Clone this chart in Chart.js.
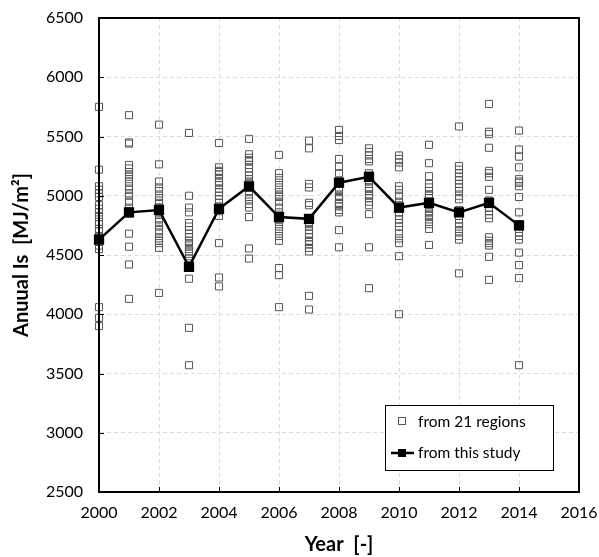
<!DOCTYPE html>
<html><head><meta charset="utf-8">
<script src="https://cdn.jsdelivr.net/npm/chart.js@4/dist/chart.umd.min.js"></script>
<style>html,body{margin:0;padding:0;background:#fff}#c{display:block}</style>
</head><body>
<canvas id="c" width="599" height="557"></canvas>
<script>
const years = [2000,2001,2002,2003,2004,2005,2006,2007,2008,2009,2010,2011,2012,2013,2014];
const studyValues = [4630,4860,4880,4400,4890,5080,4820,4805,5110,5160,4900,4940,4860,4940,4750];

const regions2000 = [5750,5220,5080,5050,5020,4990,4920,4890,4860,4820,4780,4760,4720,4700,4650,4610,4580,4550,4060,3970,3900];
const regions2001 = [5680,5450,5440,5260,5230,5200,5180,5160,5120,5080,5050,5020,5000,4950,4900,4870,4850,4680,4570,4420,4130];
const regions2002 = [5600,5265,5120,5070,5040,5000,4960,4930,4900,4860,4840,4800,4780,4750,4710,4680,4640,4620,4600,4560,4180];
const regions2003 = [5530,5000,4900,4860,4770,4740,4710,4680,4650,4620,4600,4580,4550,4530,4510,4470,4430,4410,4300,3885,3570];
const regions2004 = [5445,5240,5210,5200,5180,5150,5120,5110,5090,5060,5030,5000,4970,4940,4900,4870,4830,4600,4310,4235,4890];
const regions2005 = [5480,5350,5320,5300,5290,5260,5230,5200,5170,5140,5120,5100,5070,5040,5010,4970,4930,4900,4820,4555,4470];
const regions2006 = [5345,5190,5150,5110,5070,5030,5000,4990,4950,4900,4860,4820,4800,4780,4740,4700,4660,4620,4390,4330,4060];
const regions2007 = [5465,5400,5100,5070,4940,4920,4810,4800,4780,4760,4740,4710,4680,4650,4620,4610,4590,4560,4530,4155,4040];
const regions2008 = [5555,5505,5470,5310,5245,5190,5120,5100,5070,5040,5000,4990,4970,4940,4930,4910,4880,4860,4710,4565,5110];
const regions2009 = [5400,5370,5340,5310,5290,5190,5170,5130,5100,5070,5060,5040,5010,5000,4980,4950,4920,4845,4565,4220,5155];
const regions2010 = [5340,5310,5280,5240,5080,5050,5000,4950,4920,4890,4860,4830,4800,4770,4740,4680,4640,4600,4490,4000,4905];
const regions2011 = [5430,5275,5165,5100,5070,5040,5010,5000,4980,4950,4920,4900,4870,4860,4840,4830,4800,4760,4720,4585,4935];
const regions2012 = [5585,5250,5220,5190,5160,5130,5100,5070,5040,5000,4970,4880,4830,4800,4770,4740,4700,4660,4630,4345,4865];
const regions2013 = [5775,5540,5520,5405,5210,5190,5160,5050,4960,4950,4930,4900,4870,4840,4810,4650,4620,4600,4580,4485,4290];
const regions2014 = [5550,5390,5330,5240,5140,5120,5110,5080,4990,4860,4760,4740,4720,4690,4660,4630,4520,4415,4305,3570,4750];

const regionSets = [regions2000,regions2001,regions2002,regions2003,regions2004,regions2005,regions2006,regions2007,regions2008,regions2009,regions2010,regions2011,regions2012,regions2013,regions2014];

const xTicks = [2000,2002,2004,2006,2008,2010,2012,2014,2016];
const yTicks = [2500,3000,3500,4000,4500,5000,5500,6000,6500];

const regionPoints = [];
regionSets.forEach((arr, i) => arr.forEach(v => regionPoints.push({x: years[i], y: v})));
const studyPoints = years.map((y, i) => ({x: y, y: studyValues[i]}));

const FONT = 'Lato, "Open Sans", "Liberation Sans", sans-serif';

const framePlugin = {
  id: 'frame',
  afterDraw(chart) {
    const {ctx, chartArea: a, scales} = chart;
    ctx.save();
    ctx.strokeStyle = '#000';
    ctx.lineWidth = 1;
    ctx.beginPath();
    xTicks.forEach(t => {
      const px = Math.round(scales.x.getPixelForValue(t)) + 0.5;
      ctx.moveTo(px, a.bottom); ctx.lineTo(px, a.bottom - 5);
    });
    yTicks.forEach(t => {
      const py = Math.round(scales.y.getPixelForValue(t)) + 0.5;
      ctx.moveTo(a.left, py); ctx.lineTo(a.left + 5, py);
    });
    ctx.stroke();
    ctx.lineWidth = 2;
    ctx.strokeStyle = '#000';
    ctx.strokeRect(a.left, a.top, a.right - a.left, a.bottom - a.top);
    // legend
    const bx = 385, by = 405, bw = 168, bh = 65;
    ctx.fillStyle = '#fff';
    ctx.fillRect(bx, by, bw, bh);
    ctx.lineWidth = 1;
    ctx.strokeStyle = '#000';
    ctx.strokeRect(bx + 0.5, by + 0.5, bw, bh);
    ctx.font = '15.5px ' + FONT;
    ctx.fillStyle = '#000';
    ctx.textBaseline = 'middle';
    ctx.textAlign = 'left';
    ctx.strokeStyle = '#555';
    ctx.strokeRect(398.5, 417.5, 7, 7);
    ctx.fillText(chart.data.datasets[0].label, 418, 422);
    ctx.strokeStyle = '#000';
    ctx.lineWidth = 2.5;
    ctx.beginPath(); ctx.moveTo(391, 453); ctx.lineTo(414, 453); ctx.stroke();
    ctx.fillStyle = '#000';
    ctx.fillRect(398, 449, 8, 8);
    ctx.fillText(chart.data.datasets[1].label, 418, 453);
    ctx.restore();
  }
};

new Chart(document.getElementById('c'), {
  type: 'scatter',
  data: {
    datasets: [
      {
        label: 'from 21 regions',
        data: regionPoints,
        clip: 10,
        pointStyle: 'rect',
        pointRadius: 5,
        pointHoverRadius: 5,
        pointBorderWidth: 1,
        borderColor: '#555',
        backgroundColor: 'rgba(255,255,255,0)',
        showLine: false,
        order: 2
      },
      {
        label: 'from this study',
        data: studyPoints,
        clip: 10,
        showLine: true,
        borderColor: '#000',
        borderWidth: 2.5,
        pointStyle: 'rect',
        pointRadius: 5.5,
        pointBackgroundColor: '#000',
        pointBorderColor: '#000',
        backgroundColor: '#000',
        tension: 0,
        order: 1
      }
    ]
  },
  options: {
    responsive: false,
    animation: false,
    events: [],
    layout: {padding: {top: 18, right: 20, left: 0, bottom: 0}},
    plugins: {legend: {display: false}, tooltip: {enabled: false}},
    scales: {
      x: {
        type: 'linear',
        min: 2000, max: 2016,
        afterBuildTicks: s => { s.ticks = xTicks.map(v => ({value: v})); },
        afterFit: s => { s.height = 65; s.paddingLeft = 0; s.paddingRight = 0; },
        ticks: {color: '#000', font: {size: 16, family: FONT}, padding: 11, callback: v => String(v)},
        grid: {color: '#dcdcdc', drawTicks: false, tickLength: 0},
        border: {display: true, color: '#000', width: 2, dash: [4, 3]},
        title: {display: true, text: 'Year  [-]', color: '#000', font: {size: 20, weight: 'bold', family: FONT}, padding: {top: 0, bottom: 0}}
      },
      y: {
        min: 2500, max: 6500,
        afterBuildTicks: s => { s.ticks = yTicks.map(v => ({value: v})); },
        afterFit: s => { s.width = 99; s.paddingTop = 0; s.paddingBottom = 0; },
        ticks: {color: '#000', font: {size: 16, family: FONT}, padding: 16, callback: v => String(v)},
        grid: {color: '#dcdcdc', drawTicks: false, tickLength: 0},
        border: {display: true, color: '#000', width: 2, dash: [4, 3]},
        title: {display: true, text: 'Anuual Is  [MJ/m²]', color: '#000', font: {size: 20, weight: 'bold', family: FONT}, padding: {top: 10, bottom: 10}}
      }
    }
  },
  plugins: [framePlugin]
});
</script>
</body></html>
